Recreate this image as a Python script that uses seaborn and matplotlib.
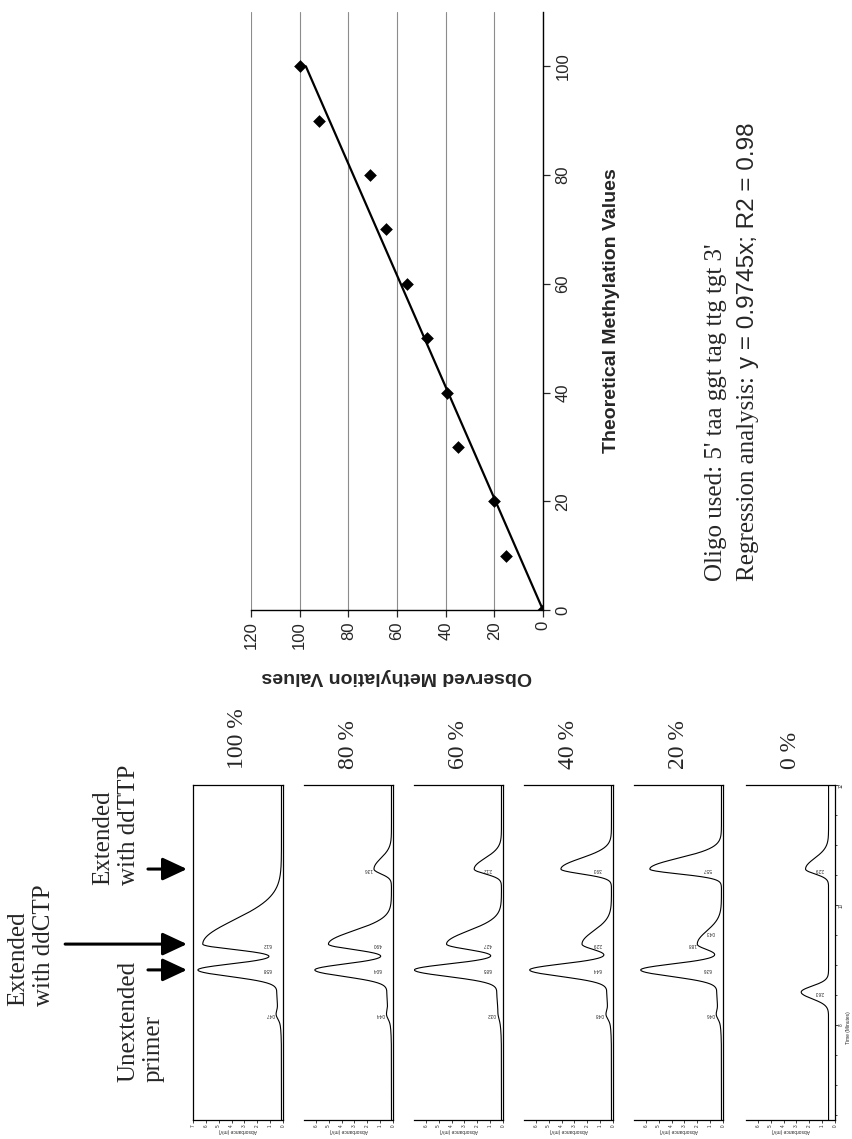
import numpy as np
import pandas as pd
import matplotlib
matplotlib.use("Agg")
import matplotlib.pyplot as plt
from matplotlib.ticker import MultipleLocator
import seaborn as sns

# ---------------- data: regression panel ----------------
theoretical = [0, 10, 20, 30, 40, 50, 60, 70, 80, 90, 100]
observed = [0, 15, 20, 35, 39.5, 47.5, 56, 64.5, 71, 92, 100]
reg_slope = 0.9745
observed_ticks = [0, 20, 40, 60, 80, 100, 120]
theoretical_ticks = [0, 20, 40, 60, 80, 100]

# ---------------- data: chromatograms (peak times in min, heights in mV) ----------------
panel_labels = ["100 %", "80 %", "60 %", "40 %", "20 %", "0 %"]
bump_time = 8.17
primer_time = [8.92, 8.92, 8.92, 8.92, 8.92, 8.55]
ddctp_time = 9.35
ddttp_time = 10.6
bump_height = [0.47, 0.44, 0.32, 0.48, 0.46, 0.0]
primer_height = [6.58, 6.04, 6.85, 6.44, 6.36, 2.63]
ddctp_height = [6.12, 4.90, 4.27, 2.29, 1.88, 0.0]
ddttp_height = [0.0, 1.36, 2.12, 3.93, 5.57, 2.29]
extra_labels = {4: ("0.43", ddctp_time + 0.2)}
time_ticks = [8, 10, 12]

# ---------------- layout ----------------
W, H = 853, 1139
sns.set_style("white")
plt.rcParams["font.family"] = ["Liberation Sans", "DejaVu Sans"]
SERIF = ["Liberation Serif", "DejaVu Serif"]
SANS = ["Liberation Sans", "DejaVu Sans"]

fig = plt.figure(figsize=(W / 100, H / 100), dpi=100)


def fx(x):
    return x / W


def fy(y):
    return 1 - y / H


# ================= scatter / regression panel (rotated 90 deg) =================
ax = fig.add_axes([fx(251), fy(610), (543 - 251) / W, (610 - 12) / H])
df = pd.DataFrame({"theoretical": theoretical, "observed": observed})
line_df = pd.DataFrame({"theoretical": [0, 100]})
line_df["observed"] = reg_slope * line_df["theoretical"]
sns.lineplot(data=line_df, x="observed", y="theoretical", sort=False, orient="y",
             estimator=None, color="black", lw=1.6, ax=ax, zorder=2)
sns.scatterplot(data=df, x="observed", y="theoretical", marker="D", s=42,
                color="black", edgecolor="black", linewidth=0, ax=ax, zorder=3,
                legend=False)
ax.set_xlim(120, 0)
ax.set_ylim(0, 110)
ax.set_xticks(observed_ticks)
ax.set_yticks(theoretical_ticks)
ax.grid(axis="x", color="#8c8c8c", lw=0.8)
ax.grid(axis="y", visible=False)
for s in ["top", "left"]:
    ax.spines[s].set_visible(False)
for s in ["right", "bottom"]:
    ax.spines[s].set_visible(True)
    ax.spines[s].set_color("black")
    ax.spines[s].set_linewidth(1.0)
ax.yaxis.tick_right()
ax.tick_params(axis="x", direction="out", length=5, width=0.9, labelsize=12,
               labelrotation=90, pad=3, bottom=True)
ax.tick_params(axis="y", direction="out", length=5, width=0.9, labelsize=12,
               labelrotation=90, pad=4, right=True, left=False)
for lb in ax.get_yticklabels():
    lb.set_va("center")
ax.set_xlabel("Observed Methylation Values", rotation=180, fontweight="bold",
              fontsize=14, ha="center", va="center")
ax.xaxis.set_label_coords(0.5, (610 - 677) / 598)
ax.set_ylabel("Theoretical Methylation Values", rotation=90, fontweight="bold",
              fontsize=14, ha="center", va="center")
ax.yaxis.set_label_position("right")
ax.yaxis.set_label_coords((603 - 251) / 292, 0.5)

# regression text
fig.text(fx(716), fy(581), "Oligo used: 5' taa ggt tag ttg tgt 3'", rotation=90,
         rotation_mode="anchor", ha="left", va="center", fontsize=18, family=SERIF)
t_reg = fig.text(fx(748), fy(581), "Regression analysis: ", rotation=90,
                 rotation_mode="anchor", ha="left", va="center", fontsize=18,
                 family=SERIF)
fig.canvas.draw()
bb = t_reg.get_window_extent()
fig.text(fx(748), bb.y1 / H + 2 / H, "y = 0.9745x; R2 = 0.98", rotation=90,
         rotation_mode="anchor", ha="left", va="center", fontsize=17.5, family=SANS)

# ================= chromatogram panels =================
PX_PER_MV = 12.86
amax = [7.0, 6.9, 6.9, 6.9, 6.9, 6.9]
right_px = [283, 393, 503, 613, 723, 835]
TOP, BOTTOM = 785, 1120
T_LO, T_HI = 6.42, 12.0
tgrid = np.linspace(T_LO, T_HI, 900)
ddctp_tail = [0.40, 0.22, 0.22, 0.22, 0.22, 0.22]


def apeak(t, t0, h, sl, sr):
    s = np.where(t < t0, sl, sr)
    return h * np.exp(-0.5 * ((t - t0) / s) ** 2)


axes = []
for i in range(6):
    left = right_px[i] - amax[i] * PX_PER_MV
    a = fig.add_axes([fx(left), fy(BOTTOM), (right_px[i] - left) / W, (BOTTOM - TOP) / H])
    axes.append(a)
    base = 0.5 if i == 5 else 0.12
    trace = (base
             + apeak(tgrid, bump_time, bump_height[i] - 0.25 if bump_height[i] else 0, 0.07, 0.07)
             + apeak(tgrid, 8.5, 0.35 if primer_height[i] and i < 5 else 0.0, 0.3, 0.2)
             + apeak(tgrid, primer_time[i], primer_height[i] - base, 0.11, 0.10)
             + apeak(tgrid, ddctp_time, ddctp_height[i], 0.09, ddctp_tail[i])
             + apeak(tgrid, ddttp_time, ddttp_height[i] - (base if i == 5 else 0), 0.08, 0.18))
    tr = pd.DataFrame({"time": tgrid, "absorbance": trace})
    sns.lineplot(data=tr, x="absorbance", y="time", sort=False, orient="y",
                 estimator=None, color="black", lw=0.8, ax=a)
    a.set_xlim(amax[i], 0)
    a.set_ylim(T_LO, T_HI)
    a.set_xticks(range(0, int(amax[i]) + 1))
    a.tick_params(axis="x", direction="out", length=2, width=0.6, labelsize=3.3,
                  labelrotation=90, pad=1, bottom=True)
    a.set_xlabel("Absorbance (mV)", fontsize=3.5, rotation=180, labelpad=1)
    a.set_ylabel("")
    for s in a.spines.values():
        s.set_color("black")
        s.set_linewidth(0.9)
    a.spines["left"].set_visible(i == 0)
    if i == 5:
        a.yaxis.tick_right()
        a.set_yticks(time_ticks)
        a.yaxis.set_minor_locator(MultipleLocator(0.5))
        a.tick_params(axis="y", which="both", direction="out", length=2, width=0.6,
                      labelsize=3.3, labelrotation=90, pad=1, right=True, left=False)
        a.tick_params(axis="y", which="minor", length=1.2)
    else:
        a.tick_params(axis="y", left=False, right=False, labelleft=False,
                      labelright=False)
    # peak labels
    peaks = [(bump_time, bump_height[i]), (primer_time[i], primer_height[i]),
             (ddctp_time, ddctp_height[i]), (ddttp_time, ddttp_height[i])]
    for (tp, h) in peaks:
        if h <= 0:
            continue
        ax_pos = h + 0.55 if h < 2 else 1.2
        a.text(ax_pos, tp, f"{h:.2f}", rotation=180, fontsize=3.3, ha="center",
               va="center")
    if i in extra_labels:
        lab, tp = extra_labels[i]
        a.text(1.0, tp, lab, rotation=180, fontsize=3.3, ha="center", va="center")
    # panel label
    fig.text(fx((left + right_px[i]) / 2), fy(769), panel_labels[i], rotation=90,
             rotation_mode="anchor", ha="left", va="center", fontsize=17, family=SERIF)

fig.text(fx(849), fy(1028), "Time (Minutes)", rotation=90, fontsize=3.5,
         ha="center", va="center")

# arrows + annotations on first panel
a1 = axes[0]
arrow_kw = dict(arrowstyle="-|>,head_length=1.5,head_width=0.7", lw=2.2,
                color="black", shrinkA=0, shrinkB=0, mutation_scale=10)
for t_arrow, tail in [(ddttp_time, -0.5), (ddctp_time, -1.42), (primer_time[0], -0.5)]:
    a1.annotate("", xy=(-0.067, t_arrow), xycoords=("axes fraction", "data"),
                xytext=(tail, t_arrow), textcoords=("axes fraction", "data"),
                arrowprops=arrow_kw, annotation_clip=False)

fig.text(fx(31), fy(1006), "Extended\nwith ddCTP", rotation=90, rotation_mode="anchor",
         ha="left", va="center", multialignment="left", fontsize=18, family=SERIF)
fig.text(fx(116), fy(885), "Extended\nwith ddTTP", rotation=90, rotation_mode="anchor",
         ha="left", va="center", multialignment="left", fontsize=18, family=SERIF)
fig.text(fx(141), fy(1082), "Unextended\nprimer", rotation=90, rotation_mode="anchor",
         ha="left", va="center", multialignment="left", fontsize=18, family=SERIF)

fig.savefig("out.png", dpi=100)
